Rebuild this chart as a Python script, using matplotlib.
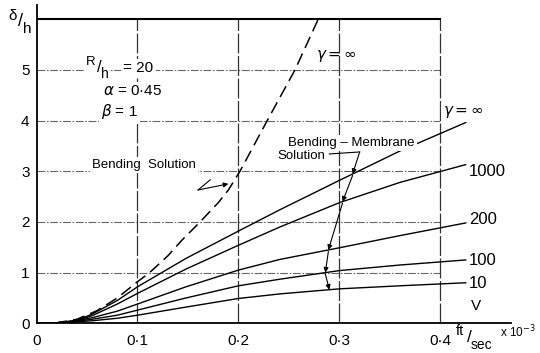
import numpy as np
import matplotlib
matplotlib.use("Agg")
import matplotlib.pyplot as plt

plt.rcParams['font.family'] = ['Liberation Sans', 'DejaVu Sans']
plt.rcParams['mathtext.fontset'] = 'dejavusans'

# velocity (ft/sec x 10^-3) and deflection ratio delta/h
x_bend = [0, 0.02, 0.04, 0.06, 0.08, 0.1, 0.112, 0.13, 0.144, 0.162, 0.18,
          0.19, 0.2015, 0.215, 0.2285, 0.256, 0.279]
y_bend = [0, 0.01, 0.08, 0.25, 0.5, 0.82, 1.0, 1.33, 1.64, 2.0, 2.38,
          2.63, 3.0, 3.5, 4.0, 5.0, 6.0]

x_bm = [0, 0.02, 0.04, 0.055, 0.08, 0.1, 0.148, 0.2, 0.241, 0.3, 0.36, 0.425]
gamma_labels = ['∞', '1000', '200', '100', '10']
y_bm = {
    '∞':    [0, 0.01, 0.06, 0.18, 0.45, 0.72, 1.28, 1.82, 2.24, 2.82, 3.40, 3.96],
    '1000': [0, 0.01, 0.05, 0.15, 0.38, 0.59, 1.07, 1.54, 1.90, 2.38, 2.78, 3.13],
    '200':  [0, 0.01, 0.05, 0.11, 0.24, 0.38, 0.72, 1.05, 1.26, 1.49, 1.73, 1.98],
    '100':  [0, 0.01, 0.04, 0.08, 0.16, 0.26, 0.50, 0.74, 0.87, 1.04, 1.15, 1.25],
    '10':   [0, 0.005, 0.03, 0.05, 0.10, 0.16, 0.32, 0.49, 0.58, 0.68, 0.74, 0.80],
}
label_y = {'1000': 3.0, '200': 2.04, '100': 1.24, '10': 0.79}

x_ticks = [0, 0.1, 0.2, 0.3, 0.4]
x_ticklabels = ['0', '0·1', '0·2', '0·3', '0·4']
y_ticks = [0, 1, 2, 3, 4, 5]

W, H = 540, 353
fig = plt.figure(figsize=(5.4, 3.53), dpi=100)
ax = fig.add_axes([0.0676, 0.0841, 0.879, 0.902])
ax.set_xlim(0, 0.47)
ax.set_ylim(0, 6.28)

for s in ['top', 'right']:
    ax.spines[s].set_visible(False)
for s in ['left', 'bottom']:
    ax.spines[s].set_linewidth(1.3)

ax.set_xticks(x_ticks)
ax.set_xticklabels(x_ticklabels)
ax.set_yticks(y_ticks)
ax.tick_params(length=0, labelsize=11)
ax.tick_params(axis='x', pad=8)
ax.tick_params(axis='y', pad=5)

# grid
for yv in y_ticks[1:]:
    ax.plot([0, 0.4], [yv, yv], color='#666666', lw=0.8,
            dashes=(7, 1.5, 1.5, 1.5), zorder=1)
for xv in x_ticks[1:]:
    ax.plot([xv, xv], [0, 6], color='#333333', lw=0.9, dashes=(16, 2), zorder=1)
ax.plot([0, 0.4], [6, 6], color='black', lw=1.5, zorder=1)

# curves
ax.plot(x_bend, y_bend, color='black', lw=1.1, dashes=(8, 4), zorder=2)
for g in gamma_labels:
    ax.plot(x_bm, y_bm[g], color='black', lw=1.0, zorder=2)


def ftext(px, py, s, size, ha='left'):
    """place text at pixel position measured from the top-left corner"""
    fig.text(px / W, 1 - py / H, s, fontsize=size, ha=ha, va='center', zorder=5)


# labels
box = dict(facecolor='white', edgecolor='none', pad=1.5)
ax.text(0.049, 5.03, '     ', fontsize=11, va='center', bbox=box, zorder=4)
ftext(86, 62, 'R', 9.5)
ftext(99, 68, '/', 12, ha='center')
ftext(101, 74, 'h', 10)
ax.text(0.086, 5.03, '= 20', fontsize=11, va='center', bbox=box, zorder=4)
ax.text(0.066, 4.58, r'$\alpha$ = 0·45', fontsize=11, va='center', bbox=box, zorder=4)
ax.text(0.064, 4.17, r'$\beta$ = 1', fontsize=11, va='center', bbox=box, zorder=4)
ax.text(0.055, 3.12, 'Bending  Solution', fontsize=9.5, va='center', bbox=box, zorder=4)
ax.text(0.277, 5.27, r'$\gamma = \infty$', fontsize=11, va='center', zorder=4)
ax.text(0.403, 4.17, r'$\gamma = \infty$', fontsize=11, va='center', bbox=box, zorder=4)
ax.text(0.249, 3.56, 'Bending – Membrane', fontsize=9.5, va='center', bbox=box, zorder=4)
ax.text(0.239, 3.30, 'Solution', fontsize=9.5, va='center', bbox=box, zorder=4)
for g in ['1000', '200', '100', '10']:
    ax.text(0.428, label_y[g], g, fontsize=12, va='center', zorder=4)
ax.text(0.430, 0.34, 'V', fontsize=11, va='center', zorder=4)

# bending solution leader
ax.plot([0.172, 0.16], [2.83, 2.63], color='black', lw=0.8, zorder=3)
ax.annotate('', xy=(0.19, 2.75), xytext=(0.16, 2.63),
            arrowprops=dict(arrowstyle='-|>', color='black', lw=0.8,
                            mutation_scale=7, shrinkA=0, shrinkB=0), zorder=3)

# bending-membrane leader chain
ax.plot([0.29, 0.32], [3.34, 3.38], color='black', lw=0.8, zorder=3)
hits_x = [0.313, 0.303, 0.289, 0.286, 0.29]
prev = (0.32, 3.38)
for g, hx in zip(gamma_labels, hits_x):
    hy = np.interp(hx, x_bm, y_bm[g])
    ax.annotate('', xy=(hx, hy), xytext=prev,
                arrowprops=dict(arrowstyle='-|>', color='black', lw=0.8,
                                mutation_scale=7, shrinkA=0, shrinkB=0), zorder=3)
    prev = (hx, hy - 0.03)

# axis titles
ftext(8, 16, 'δ', 11)
ftext(20, 22, '/', 13, ha='center')
ftext(23, 29, 'h', 11)

ftext(456, 331, 'ft', 10.5)
ftext(469, 338, '/', 12.5, ha='center')
ftext(471, 345, 'sec', 10)
ftext(500, 332, r'x 10$^{-3}$', 8.5)

fig.savefig('out.png', dpi=100)
